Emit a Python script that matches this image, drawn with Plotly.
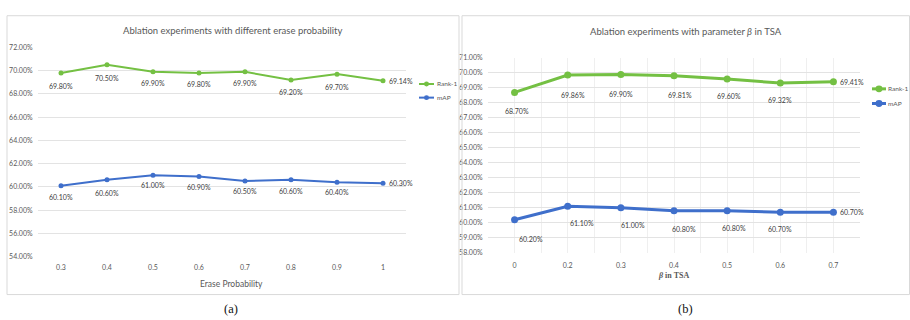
import plotly.graph_objects as go

# ---------------- data ----------------
erase_prob = ["0.3", "0.4", "0.5", "0.6", "0.7", "0.8", "0.9", "1"]
erase_rank1 = [69.80, 70.50, 69.90, 69.80, 69.90, 69.20, 69.70, 69.14]
erase_map = [60.10, 60.60, 61.00, 60.90, 60.50, 60.60, 60.40, 60.30]

beta_vals = ["0", "0.2", "0.3", "0.4", "0.5", "0.6", "0.7"]
beta_rank1 = [68.70, 69.86, 69.90, 69.81, 69.60, 69.32, 69.41]
beta_map = [60.20, 61.10, 61.00, 60.80, 60.80, 60.70, 60.70]

series_names = ["Rank-1", "mAP"]
title_a = "Ablation experiments with different erase probability"
title_b = "Ablation experiments with parameter <i>β</i> in TSA"
xtitle_a = "Erase Probability"
xtitle_b = "<b><i>β</i> in TSA</b>"
captions = ["(a)", "(b)"]

# ---------------- styles ----------------
W, H = 910, 320
GREEN = "#74C043"
BLUE = "#3F6FCB"
GRID = "#E3E3E3"
VGRID = "#EFEFEF"
TICK = "#595959"
LABEL = "#404040"
FONT = "Lato"
SERIF = "Liberation Serif"


def px(x):
    return x / W


def py(y):
    return 1 - y / H


# label offsets (dx, dy in px, label below point); last point labelled right
a_r1_dy = [13, 13, 11, 11, 11, 12, 13]
a_map_dy = [11, 13, 10, 11, 10, 11, 10]
b_r1_dx = [2, 5, 0, 6, 2, 0]
b_r1_dy = [19, 20, 20, 19, 17, 17]
b_map_dx = [16, 14, 12, 10, 7, 0]
b_map_dy = [19, 17, 17, 18, 17, 17]

fig = go.Figure()

aidx = list(range(len(erase_prob)))
fig.add_trace(go.Scatter(x=aidx, y=erase_rank1, mode="lines+markers",
                         line=dict(color=GREEN, width=2),
                         marker=dict(size=5, color=GREEN),
                         xaxis="x", yaxis="y", showlegend=False, name=series_names[0]))
fig.add_trace(go.Scatter(x=aidx, y=erase_map, mode="lines+markers",
                         line=dict(color=BLUE, width=2),
                         marker=dict(size=5, color=BLUE),
                         xaxis="x", yaxis="y", showlegend=False, name=series_names[1]))

bidx = list(range(len(beta_vals)))
fig.add_trace(go.Scatter(x=bidx, y=beta_rank1, mode="lines+markers",
                         line=dict(color=GREEN, width=3),
                         marker=dict(size=7, color=GREEN),
                         xaxis="x2", yaxis="y2", showlegend=False, name=series_names[0]))
fig.add_trace(go.Scatter(x=bidx, y=beta_map, mode="lines+markers",
                         line=dict(color=BLUE, width=3),
                         marker=dict(size=7, color=BLUE),
                         xaxis="x2", yaxis="y2", showlegend=False, name=series_names[1]))

ann = []
lab_font = dict(family=FONT, size=7, color=LABEL)

# data labels panel (a)
for vals, dys in ((erase_rank1, a_r1_dy), (erase_map, a_map_dy)):
    n = len(vals)
    for i, v in enumerate(vals):
        if i < n - 1:
            ann.append(dict(x=aidx[i], y=v, xref="x", yref="y", text=f"{v:.2f}%",
                            showarrow=False, font=lab_font, xanchor="center", yanchor="middle",
                            yshift=-dys[i]))
        else:
            ann.append(dict(x=aidx[i], y=v, xref="x", yref="y", text=f"{v:.2f}%",
                            showarrow=False, font=lab_font, xanchor="left", yanchor="middle",
                            xshift=4))

# data labels panel (b)
for vals, dxs, dys in ((beta_rank1, b_r1_dx, b_r1_dy), (beta_map, b_map_dx, b_map_dy)):
    n = len(vals)
    for i, v in enumerate(vals):
        if i < n - 1:
            ann.append(dict(x=bidx[i], y=v, xref="x2", yref="y2", text=f"{v:.2f}%",
                            showarrow=False, font=lab_font, xanchor="center", yanchor="middle",
                            xshift=dxs[i], yshift=-dys[i]))
        else:
            ann.append(dict(x=bidx[i], y=v, xref="x2", yref="y2", text=f"{v:.2f}%",
                            showarrow=False, font=lab_font, xanchor="left", yanchor="middle",
                            xshift=5))


def paper_text(x, y, text, font, xanchor="center"):
    return dict(x=px(x), y=py(y), xref="paper", yref="paper", text=text, showarrow=False,
                xanchor=xanchor, yanchor="middle", font=font)


# titles
ann.append(paper_text(233, 26, title_a, dict(family=FONT, size=9.5, color=TICK)))
ann.append(paper_text(686, 27, title_b, dict(family=FONT, size=9.5, color=TICK)))
ann.append(paper_text(232, 286, xtitle_a, dict(family=FONT, size=8.5, color=TICK)))
ann.append(paper_text(673, 277, xtitle_b, dict(family=SERIF, size=8, color=TICK)))
ann.append(paper_text(231, 312, captions[0], dict(family=SERIF, size=12.5, color="#111111")))
ann.append(paper_text(685, 312, captions[1], dict(family=SERIF, size=12.5, color="#111111")))

shapes = []
# panel borders
shapes.append(dict(type="rect", xref="paper", yref="paper", x0=px(7), x1=px(459), y0=py(297), y1=py(11),
                   line=dict(color="#D9D9D9", width=1)))
shapes.append(dict(type="rect", xref="paper", yref="paper", x0=px(462), x1=px(909.5), y0=py(297), y1=py(11),
                   line=dict(color="#D9D9D9", width=1)))

# custom legends
legends = [
    (419, 434, 435, [81, 95], 2, 5),
    (872, 886, 886, [86, 101], 3, 7),
]
colors = [GREEN, BLUE]
for x0, x1, xt, ys, lw, ms in legends:
    for name, col, yy in zip(series_names, colors, ys):
        shapes.append(dict(type="line", xref="paper", yref="paper", x0=px(x0), x1=px(x1),
                           y0=py(yy), y1=py(yy), line=dict(color=col, width=lw)))
        xc = (x0 + x1) / 2
        r = ms / 2
        shapes.append(dict(type="circle", xref="paper", yref="paper",
                           x0=px(xc - r), x1=px(xc + r), y0=py(yy + r), y1=py(yy - r),
                           fillcolor=col, line=dict(color=col, width=0)))
        ann.append(paper_text(xt, yy, name, dict(family=FONT, size=6.5, color=TICK), xanchor="left"))

tickfont = dict(family=FONT, size=7, color=TICK)

fig.update_layout(
    width=W, height=H,
    margin=dict(l=0, r=0, t=0, b=0),
    paper_bgcolor="white", plot_bgcolor="white",
    showlegend=False,
    annotations=ann, shapes=shapes,
    xaxis=dict(domain=[px(38), px(406)], range=[-0.5, len(erase_prob) - 0.5], tickmode="array",
               tickvals=aidx, ticktext=erase_prob, showgrid=False, showline=False,
               zeroline=False, ticks="outside", ticklen=4, tickcolor="rgba(0,0,0,0)",
               tickfont=tickfont, anchor="y"),
    yaxis=dict(domain=[py(258), py(43.5)], range=[54, 72], dtick=2, tickformat=".2f", ticksuffix="%",
               showgrid=True, gridcolor=GRID, gridwidth=1, zeroline=False, showline=False,
               ticks="outside", ticklen=3, tickcolor="rgba(0,0,0,0)", tickfont=tickfont, anchor="x"),
    xaxis2=dict(domain=[px(488), px(860)], range=[-0.5, len(beta_vals) - 0.5], tickmode="array",
                tickvals=bidx, ticktext=beta_vals, showgrid=True, gridcolor=VGRID, zeroline=False,
                showline=False,
                minor=dict(tick0=-0.5, dtick=1, showgrid=True, gridcolor=VGRID, ticks=""),
                ticks="outside", ticklen=6, tickcolor="rgba(0,0,0,0)", tickfont=tickfont, anchor="y2"),
    yaxis2=dict(domain=[py(254), py(54.3)], range=[58, 71], dtick=1, tickformat=".2f", ticksuffix="%",
                showgrid=True, gridcolor=GRID, zeroline=False, showline=False,
                ticks="outside", ticklen=3, tickcolor="rgba(0,0,0,0)", tickfont=tickfont, anchor="x2"),
)

fig.write_html("out.html")
